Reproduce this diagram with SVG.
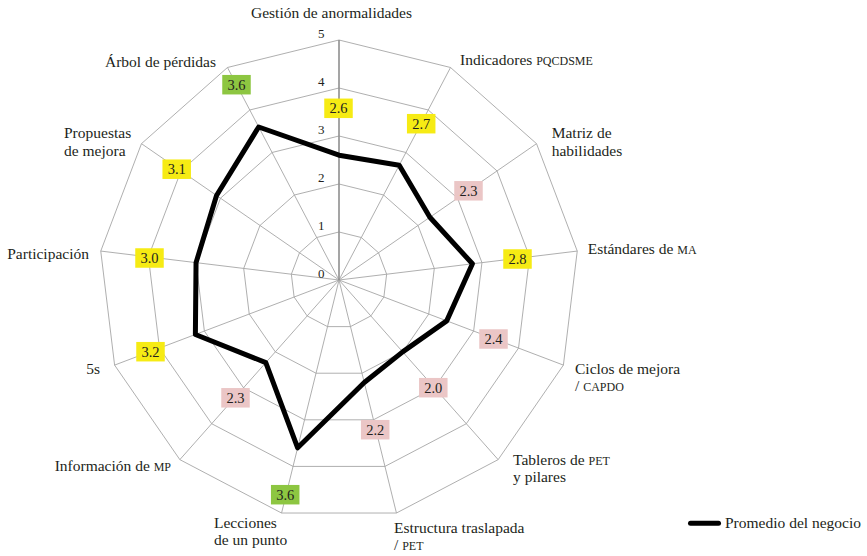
<svg xmlns="http://www.w3.org/2000/svg" width="867" height="556" viewBox="0 0 867 556">
<style>
text{font-family:"Liberation Serif","Times New Roman",serif;fill:#231f20}
.ax{font-size:15.5px}
.tk{font-size:13px;text-anchor:end}
.dl{font-size:14.5px;text-anchor:middle}
.sc{font-variant:small-caps;font-size:17px}
.ring{fill:none;stroke:#a6a6a6;stroke-width:0.9}
.spoke{stroke:#a6a6a6;stroke-width:0.9}
.vax{stroke:#8f8f8f;stroke-width:1.6}
.y{fill:#f6eb14}.p{fill:#ebc6c6}.g{fill:#8dc641}
.series{fill:none;stroke:#000;stroke-width:5;stroke-linejoin:round}
</style>
<rect width="867" height="556" fill="#fff"/>
<g id="grid" transform="translate(339,280)">
<polygon class="ring" points="0,-48 22.31,-42.50 39.50,-27.27 47.65,-5.79 44.88,17.02 31.83,35.93 11.49,46.61 -11.49,46.61 -31.83,35.93 -44.88,17.02 -47.65,-5.79 -39.50,-27.27 -22.31,-42.50"/>
<polygon class="ring" points="0,-96 44.61,-85.00 79.01,-54.53 95.30,-11.57 89.76,34.04 63.66,71.86 22.97,93.21 -22.97,93.21 -63.66,71.86 -89.76,34.04 -95.30,-11.57 -79.01,-54.53 -44.61,-85.00"/>
<polygon class="ring" points="0,-144 66.92,-127.51 118.51,-81.80 142.95,-17.36 134.64,51.06 95.49,107.79 34.46,139.82 -34.46,139.82 -95.49,107.79 -134.64,51.06 -142.95,-17.36 -118.51,-81.80 -66.92,-127.51"/>
<polygon class="ring" points="0,-192 89.23,-170.01 158.01,-109.07 190.60,-23.14 179.52,68.08 127.32,143.71 45.95,186.42 -45.95,186.42 -127.32,143.71 -179.52,68.08 -190.60,-23.14 -158.01,-109.07 -89.23,-170.01"/>
<polygon class="ring" points="0,-240 111.53,-212.51 197.52,-136.33 238.25,-28.93 224.40,85.10 159.15,179.64 57.44,233.03 -57.44,233.03 -159.15,179.64 -224.40,85.10 -238.25,-28.93 -197.52,-136.33 -111.53,-212.51"/>
<line class="spoke" x1="0" y1="0" x2="111.53" y2="-212.51"/>
<line class="spoke" x1="0" y1="0" x2="197.52" y2="-136.33"/>
<line class="spoke" x1="0" y1="0" x2="238.25" y2="-28.93"/>
<line class="spoke" x1="0" y1="0" x2="224.40" y2="85.10"/>
<line class="spoke" x1="0" y1="0" x2="159.15" y2="179.64"/>
<line class="spoke" x1="0" y1="0" x2="57.44" y2="233.03"/>
<line class="spoke" x1="0" y1="0" x2="-57.44" y2="233.03"/>
<line class="spoke" x1="0" y1="0" x2="-159.15" y2="179.64"/>
<line class="spoke" x1="0" y1="0" x2="-224.40" y2="85.10"/>
<line class="spoke" x1="0" y1="0" x2="-238.25" y2="-28.93"/>
<line class="spoke" x1="0" y1="0" x2="-197.52" y2="-136.33"/>
<line class="spoke" x1="0" y1="0" x2="-111.53" y2="-212.51"/>
<line class="vax" x1="0" y1="0" x2="0" y2="-240"/>
</g>
<g id="ticks">
<text class="tk" x="324.5" y="37.5">5</text>
<text class="tk" x="324.5" y="85.5">4</text>
<text class="tk" x="324.5" y="133.5">3</text>
<text class="tk" x="324.5" y="181.5">2</text>
<text class="tk" x="324.5" y="229.5">1</text>
<text class="tk" x="324.5" y="277.5">0</text>
</g>
<g id="axis-labels" class="ax">
<text class="ax" x="331.5" y="18" text-anchor="middle">Gestión de anormalidades</text>
<text class="ax" x="460" y="65">Indicadores <tspan class="sc">pqcdsme</tspan></text>
<text class="ax" x="551.7" y="137.7">Matriz de<tspan x="551.7" y="155.7">habilidades</tspan></text>
<text class="ax" x="587.7" y="254.3">Estándares de <tspan class="sc">ma</tspan></text>
<text class="ax" x="575" y="374">Ciclos de mejora<tspan x="575" y="391">/ <tspan class="sc">capdo</tspan></tspan></text>
<text class="ax" x="513" y="465">Tableros de <tspan class="sc">pet</tspan><tspan x="513" y="482">y pilares</tspan></text>
<text class="ax" x="394" y="532.5">Estructura traslapada<tspan x="394" y="550">/ <tspan class="sc">pet</tspan></tspan></text>
<text class="ax" x="214" y="527.5">Lecciones<tspan x="214" y="544.5">de un punto</tspan></text>
<text class="ax" x="171" y="470.7" text-anchor="end">Información de <tspan class="sc">mp</tspan></text>
<text class="ax" x="100" y="374" text-anchor="end">5s</text>
<text class="ax" x="89" y="259" text-anchor="end">Participación</text>
<text class="ax" x="64" y="138.3">Propuestas<tspan x="64" y="156">de mejora</tspan></text>
<text class="ax" x="216" y="66.7" text-anchor="end">Árbol de pérdidas</text>
</g>
<g id="series" transform="translate(339,280)">
<polygon class="series" points="0,-124.8 60.23,-114.76 90.86,-62.71 133.42,-16.20 107.71,40.85 63.66,71.86 25.27,102.53 -41.35,167.78 -73.21,82.64 -143.62,54.47 -142.95,-17.36 -122.46,-84.53 -80.30,-153.01"/>
</g>
<g id="data-labels">
<rect class="y" x="324.25" y="98.55" width="28.5" height="19.5"/><text class="dl" x="338.5" y="113.1">2.6</text>
<rect class="y" x="406.95" y="113.95" width="28.5" height="19.5"/><text class="dl" x="421.2" y="128.5">2.7</text>
<rect class="p" x="454.25" y="181.05" width="28.5" height="19.5"/><text class="dl" x="468.5" y="195.6">2.3</text>
<rect class="y" x="503.25" y="249.25" width="28.5" height="19.5"/><text class="dl" x="517.5" y="263.8">2.8</text>
<rect class="p" x="479.25" y="329.25" width="28.5" height="19.5"/><text class="dl" x="493.5" y="343.8">2.4</text>
<rect class="p" x="419.05" y="377.95" width="28.5" height="19.5"/><text class="dl" x="433.3" y="392.5">2.0</text>
<rect class="p" x="360.95" y="419.95" width="28.5" height="19.5"/><text class="dl" x="375.2" y="434.5">2.2</text>
<rect class="g" x="270.95" y="484.95" width="28.5" height="19.5"/><text class="dl" x="285.2" y="499.5">3.6</text>
<rect class="p" x="221.25" y="388.05" width="28.5" height="19.5"/><text class="dl" x="235.5" y="402.6">2.3</text>
<rect class="y" x="136.25" y="341.95" width="28.5" height="19.5"/><text class="dl" x="150.5" y="356.5">3.2</text>
<rect class="y" x="135.25" y="248.25" width="28.5" height="19.5"/><text class="dl" x="149.5" y="262.8">3.0</text>
<rect class="y" x="162.45" y="159.45" width="28.5" height="19.5"/><text class="dl" x="176.7" y="174">3.1</text>
<rect class="g" x="222.25" y="74.95" width="28.5" height="19.5"/><text class="dl" x="236.5" y="89.5">3.6</text>
</g>
<g id="legend">
<line x1="690.5" y1="523.3" x2="718.5" y2="523.3" stroke="#000" stroke-width="5" stroke-linecap="round"/>
<text class="ax" x="725" y="528">Promedio del negocio</text>
</g>
</svg>
